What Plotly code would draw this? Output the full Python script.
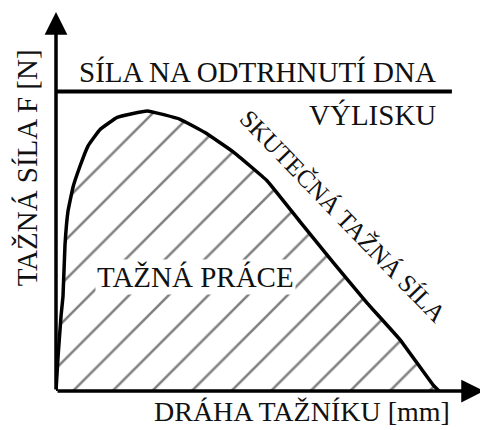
import plotly.graph_objects as go

# Data (arbitrary units: drawing stroke 0..100, force 0..100)
stroke = [0, 0.47, 1.17, 1.64, 2.1, 2.8, 4.0, 5.6, 7.5, 10.3, 14.3, 21.3, 29.0, 34.8,
          41.4, 49.3, 57.0, 64.7, 72.7, 80.4, 88.1, 89.5]
force = [0, 8.9, 19.7, 25.1, 38.5, 47.4, 53.9, 59.3, 64.7, 69.0, 72.2, 73.9, 71.7, 68.2,
         63.1, 55.5, 44.7, 34.0, 23.2, 13.5, 1.6, 0]
tear_force = 79.0
tear_x = [0, 92.5]

x_title = "DRÁHA TAŽNÍKU [mm]"
y_title = "TAŽNÁ SÍLA F [N]"
label_tear = "SÍLA NA ODTRHNUTÍ DNA"
label_tear2 = "VÝLISKU"
label_work = "TAŽNÁ PRÁCE"
label_curve = "SKUTEČNÁ TAŽNÁ SÍLA"

FONT = "Liberation Serif"
INK = "#111111"

fig = go.Figure()
fig.add_trace(go.Scatter(
    x=stroke, y=force, mode="lines", fill="tozeroy",
    fillcolor="rgba(255,255,255,0)",
    fillpattern=dict(shape="/", fgcolor="black", bgcolor="white", size=28, solidity=0.09),
    line=dict(color="black", width=3.5, shape="spline", smoothing=0.3),
    hoverinfo="skip", showlegend=False))
fig.add_trace(go.Scatter(
    x=tear_x, y=[tear_force, tear_force], mode="lines",
    line=dict(color="black", width=4), hoverinfo="skip", showlegend=False))

ann = []
# axes drawn as arrows from the origin
ann.append(dict(x=0, y=100, ax=0, ay=0, xref="x", yref="y", axref="x", ayref="y",
                text="", showarrow=True, arrowhead=2, arrowsize=1.3, arrowwidth=3.5,
                arrowcolor="black"))
ann.append(dict(x=100, y=0, ax=0, ay=0, xref="x", yref="y", axref="x", ayref="y",
                text="", showarrow=True, arrowhead=2, arrowsize=1.3, arrowwidth=3.5,
                arrowcolor="black"))

def txt(x, y, t, size=29, angle=0, xref="x", yref="y", bg=None):
    d = dict(x=x, y=y, xref=xref, yref=yref, text=t, showarrow=False, textangle=angle,
             font=dict(family=FONT, size=size, color=INK), xanchor="center", yanchor="middle")
    if bg:
        d["bgcolor"] = bg
        d["borderpad"] = 1
    return d

ann.append(txt(47.1, 84.1, label_tear))
ann.append(txt(74.0, 72.8, label_tear2))
ann.append(txt(32.5, 30.0, label_work, bg="white"))
ann.append(txt(67.1, 46.1, label_curve, size=25, angle=46))
ann.append(txt(-0.0677, 0.5875, y_title, angle=-90, xref="paper", yref="paper"))
ann.append(txt(0.574, -0.054, x_title, size=28, xref="paper", yref="paper"))

# the page body has an 8px default margin, so the figure is offset by 8px
fig.update_layout(
    width=480, height=422,
    margin=dict(l=48, r=4, t=4, b=39),
    paper_bgcolor="white", plot_bgcolor="white",
    xaxis=dict(range=[0, 100], visible=False, fixedrange=True),
    yaxis=dict(range=[0, 100], visible=False, fixedrange=True),
    annotations=ann,
)
fig.write_html("out.html")
